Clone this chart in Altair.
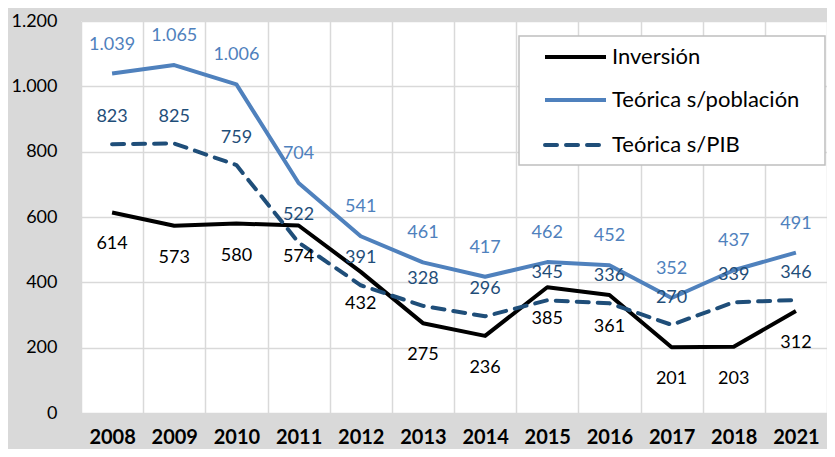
import altair as alt
import pandas as pd

years = ["2008", "2009", "2010", "2011", "2012", "2013", "2014", "2015", "2016", "2017", "2018", "2021"]
inversion = [614, 573, 580, 574, 432, 275, 236, 385, 361, 201, 203, 312]
poblacion = [1039, 1065, 1006, 704, 541, 461, 417, 462, 452, 352, 437, 491]
pib = [823, 825, 759, 522, 391, 328, 296, 345, 336, 270, 339, 346]
series_names = ["Inversión", "Teórica s/población", "Teórica s/PIB"]
colors = ["#000000", "#4f81bd", "#1f4e79"]
y_ticks = [0, 200, 400, 600, 800, 1000, 1200]

rows = []
for name, vals in zip(series_names, [inversion, poblacion, pib]):
    for yr, v in zip(years, vals):
        rows.append({"year": yr, "serie": name, "valor": v})
df = pd.DataFrame(rows)

FONT = "Lato"
W, H = 746, 392

x_enc = alt.X(
    "year:O", sort=years,
    scale=alt.Scale(type="band", paddingInner=0, paddingOuter=0),
    bandPosition=0.5,
    axis=alt.Axis(title=None, labelAngle=0, labelFontWeight="bold", labelFontSize=20,
                  labelColor="black", labelPadding=14, ticks=False, domain=False,
                  grid=True, tickBand="extent", gridColor="#d9d9d9", gridWidth=1.5,
                  labelFont=FONT),
)
y_enc = alt.Y(
    "valor:Q", scale=alt.Scale(domain=[0, 1200], nice=False),
    axis=alt.Axis(title=None, values=y_ticks,
                  labelExpr="replace(format(datum.value, ','), ',', '.')",
                  labelFontSize=18, labelColor="black", labelPadding=24, ticks=False,
                  domain=False, grid=True, gridColor="#d9d9d9", gridWidth=1.5, labelFont=FONT),
)

base = alt.Chart(df).encode(x=x_enc, y=y_enc)

layers = []
dash = {"Inversión": None, "Teórica s/población": None, "Teórica s/PIB": [12, 9]}
for name, col in zip(series_names, colors):
    kw = dict(strokeWidth=4, color=col, strokeJoin="round")
    if dash[name]:
        kw["strokeDash"] = dash[name]
        kw["strokeCap"] = "round"
    layers.append(base.transform_filter(alt.datum.serie == name).mark_line(**kw))

label_dy = {"Inversión": 32, "Teórica s/población": -29, "Teórica s/PIB": -27}
for name, col in zip(series_names, colors):
    layers.append(
        base.transform_filter(alt.datum.serie == name)
        .transform_calculate(label="replace(format(datum.valor, ','), ',', '.')")
        .mark_text(dy=label_dy[name], fontSize=18, font=FONT, color=col, baseline="middle")
        .encode(text="label:N")
    )

# legend (manual)
one = pd.DataFrame({"k": [0]})
layers.append(
    alt.Chart(one).mark_rect(fill="white", stroke="#bfbfbf", strokeWidth=1.5).encode(
        x=alt.value(438), x2=alt.value(744), y=alt.value(15), y2=alt.value(144))
)
leg_y = [36, 79, 124]
for name, col, ly in zip(series_names, colors, leg_y):
    kw = dict(strokeWidth=4, color=col)
    if dash[name]:
        kw["strokeDash"] = dash[name]
        kw["strokeCap"] = "round"
    layers.append(alt.Chart(one).mark_rule(**kw).encode(
        x=alt.value(464), x2=alt.value(525), y=alt.value(ly)))
    layers.append(alt.Chart(pd.DataFrame({"t": [name]})).mark_text(
        align="left", baseline="middle", fontSize=22, font=FONT, color="black").encode(
        x=alt.value(531), y=alt.value(ly), text="t:N"))

chart = alt.layer(*layers).properties(
    width=W, height=H,
    padding={"left": 73, "top": 13, "right": 0, "bottom": 36},
    autosize=alt.AutoSizeParams(type="none"),
    background="#d9d9d9",
).configure_view(fill="white", stroke=None)

chart.save("out.html", embed_options={"renderer": "svg", "actions": False})
